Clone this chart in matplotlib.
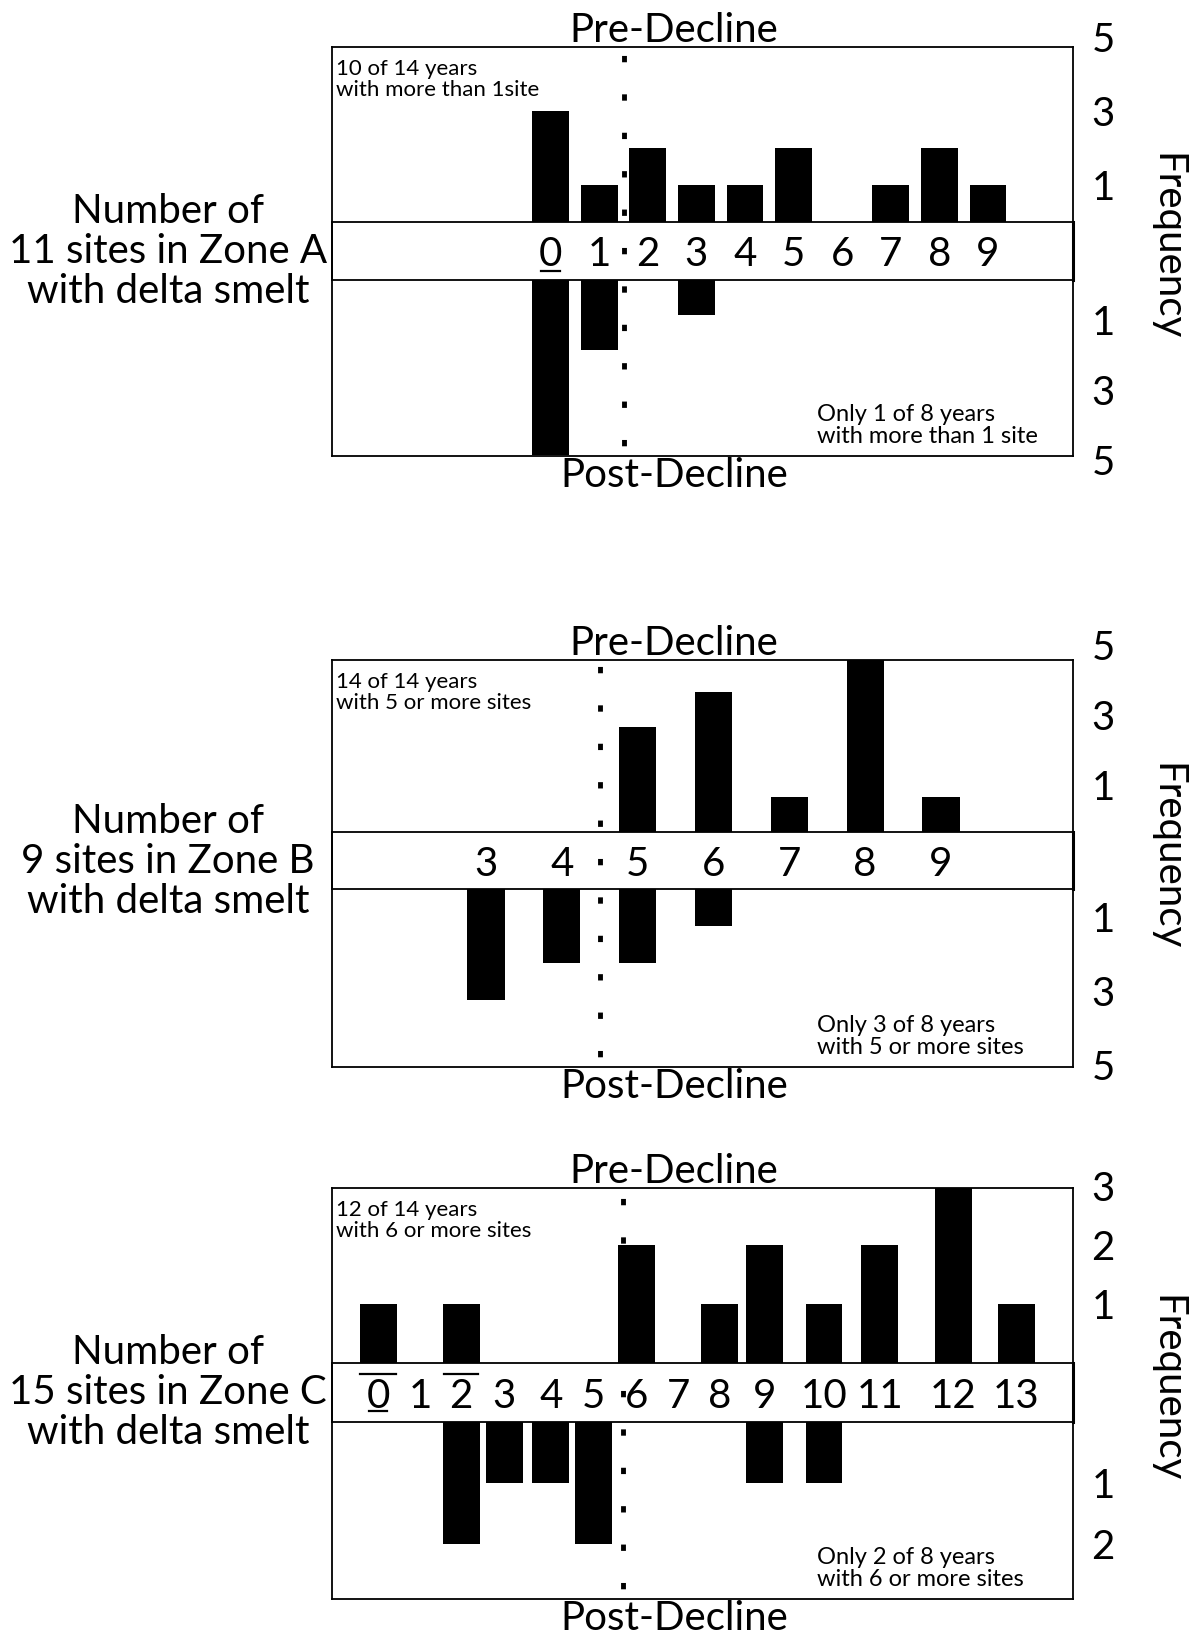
import matplotlib
matplotlib.use("Agg")
import matplotlib.pyplot as plt

# ---------------- data ----------------
zone_a_sites = list(range(10))
zone_a_pre = [3, 1, 2, 1, 1, 2, 0, 1, 2, 1]
zone_a_post = [5, 2, 0, 1, 0, 0, 0, 0, 0, 0]
zone_a_ticks_pre = [5, 3, 1]
zone_a_ticks_post = [1, 3, 5]

zone_b_sites = list(range(3, 10))
zone_b_pre = [0, 0, 3, 4, 1, 5, 1]
zone_b_post = [3, 2, 2, 1, 0, 0, 0]
zone_b_ticks_pre = [5, 3, 1]
zone_b_ticks_post = [1, 3, 5]

zone_c_sites = list(range(14))
zone_c_pre = [1, 0, 1, 0, 0, 0, 2, 0, 1, 2, 1, 2, 3, 1]
zone_c_post = [0, 0, 2, 1, 1, 2, 0, 0, 0, 1, 1, 0, 0, 0]
zone_c_ticks_pre = [3, 2, 1]
zone_c_ticks_post = [1, 2]

left_labels = ["Number of\n11 sites in Zone A\nwith delta smelt",
               "Number of\n9 sites in Zone B\nwith delta smelt",
               "Number of\n15 sites in Zone C\nwith delta smelt"]
pre_notes = ["10 of 14 years\nwith more than 1site",
             "14 of 14 years\nwith 5 or more sites",
             "12 of 14 years\nwith 6 or more sites"]
post_notes = ["Only 1 of 8 years\nwith more than 1 site",
              "Only 3 of 8 years\nwith 5 or more sites",
              "Only 2 of 8 years\nwith 6 or more sites"]

# ---------------- layout ----------------
W, H = 1203, 1636
plt.rcParams["font.family"] = ["Lato", "DejaVu Sans"]
BIG = 29

fig = plt.figure(figsize=(W / 100, H / 100), dpi=100)
fig.patch.set_facecolor("white")

BX0, BX1 = 332, 1073


def rect(x0, y0, x1, y1):
    return [x0 / W, 1 - y1 / H, (x1 - x0) / W, (y1 - y0) / H]


# label-slot positions for zone C (labels are unevenly spaced in the strip)
zone_c_slots = [0, 0.98, 1.93, 2.93, 4.02, 5.02, 6.02, 6.98, 7.95, 8.98,
                10.37, 11.67, 13.37, 14.84]

panels = [
    dict(sites=zone_a_sites, pre=zone_a_pre, post=zone_a_post,
         tpre=zone_a_ticks_pre, tpost=zone_a_ticks_post,
         xpos=zone_a_sites, xlim=(-4.5, 10.75), width=0.76, divider=1.5,
         top=47, st=222, sb=280, bot=456, u_top=37, u_bot=35,
         off_pre=0.0, off_post=0.15,
         marks=[(0, 0.15, 0.19)]),
    dict(sites=zone_b_sites, pre=zone_b_pre, post=zone_b_post,
         tpre=zone_b_ticks_pre, tpost=zone_b_ticks_post,
         xpos=zone_b_sites, xlim=(0.97, 10.74), width=0.49, divider=4.5,
         top=660, st=832, sb=889, bot=1067, u_top=35, u_bot=37,
         off_pre=0.33, off_post=-0.23,
         marks=[]),
    dict(sites=zone_c_sites, pre=zone_c_pre, post=zone_c_post,
         tpre=zone_c_ticks_pre, tpost=zone_c_ticks_post,
         xpos=zone_c_slots, xlim=(-1.07, 16.16), width=0.86, divider=5.7,
         top=1188, st=1363, sb=1422, bot=1599, u_top=59, u_bot=61,
         off_pre=0.0, off_post=0.0,
         marks=[(0, 0.82, 0.42), (0, 0.19, 0.21), (1.93, 0.82, 0.40)]),
]


def clean(ax):
    ax.set_xticks([])
    ax.set_yticks([])
    ax.set_facecolor("none")


for i, p in enumerate(panels):
    top, st, sb, bot = p["top"], p["st"], p["sb"], p["bot"]

    # frame axes (whole box) - holds the dotted divider
    ax_f = fig.add_axes(rect(BX0, top, BX1, bot))
    clean(ax_f)
    ax_f.set_xlim(p["xlim"])
    ax_f.set_ylim(0, 1)
    for s in ax_f.spines.values():
        s.set_linewidth(1.3)
    ax_f.axvline(p["divider"], color="black", lw=3.5,
                 linestyle=(5.8, (1.3, 6.6)), zorder=5)

    # pre-decline (upper) bars
    ax_t = fig.add_axes(rect(BX0, top, BX1, st))
    clean(ax_t)
    for s in ax_t.spines.values():
        s.set_visible(False)
    ax_t.set_xlim(p["xlim"])
    ax_t.set_ylim(0, (st - top) / p["u_top"])
    ax_t.bar(p["xpos"], p["pre"], width=p["width"], color="black",
             linewidth=0, align="center")
    for v in p["tpre"]:
        ax_t.text((1103 - BX0) / (BX1 - BX0), v + p["off_pre"], str(v),
                  transform=ax_t.get_yaxis_transform(), ha="center",
                  va="center_baseline", fontsize=BIG, clip_on=False)

    # post-decline (lower) bars
    ax_b = fig.add_axes(rect(BX0, sb, BX1, bot))
    clean(ax_b)
    for s in ax_b.spines.values():
        s.set_visible(False)
    ax_b.set_xlim(p["xlim"])
    ax_b.set_ylim((bot - sb) / p["u_bot"], 0)
    ax_b.bar(p["xpos"], p["post"], width=p["width"], color="black",
             linewidth=0, align="center")
    for v in p["tpost"]:
        ax_b.text((1103 - BX0) / (BX1 - BX0), v + p["off_post"], str(v),
                  transform=ax_b.get_yaxis_transform(), ha="center",
                  va="center_baseline", fontsize=BIG, clip_on=False)

    # strip with site counts
    ax_s = fig.add_axes(rect(BX0, st, BX1, sb))
    clean(ax_s)
    ax_s.set_xlim(p["xlim"])
    ax_s.set_ylim(0, 1)
    for s in ax_s.spines.values():
        s.set_linewidth(1.3)
    ax_s.spines["right"].set_linewidth(2.2)
    for x, site in zip(p["xpos"], p["sites"]):
        ax_s.text(x, 0.5, str(site), ha="center", va="center_baseline",
                  fontsize=BIG)
    for (x, yf, hw) in p["marks"]:
        ax_s.plot([x - hw, x + hw], [yf, yf], color="black", lw=1.6)

    # titles above / below
    fig.text(674 / W, 1 - (top - 5) / H, "Pre-Decline", ha="center",
             va="baseline", fontsize=BIG)
    fig.text(674 / W, 1 - (bot + 31) / H, "Post-Decline", ha="center",
             va="baseline", fontsize=BIG)

    # notes in the box
    fig.text(336 / W, 1 - (top + 49) / H, pre_notes[i], ha="left",
             va="baseline", fontsize=16, linespacing=1.08)
    fig.text(817 / W, 1 - (bot - 13) / H, post_notes[i], ha="left",
             va="baseline", fontsize=17, linespacing=1.08)

    # left label
    sc = (st + sb) / 2
    fig.text(168 / W, 1 - (sc + 52) / H, left_labels[i], ha="center",
             va="baseline", fontsize=BIG, linespacing=1.1,
             multialignment="center")

    # frequency axis title
    fig.text(1167 / W, 1 - (sc - 4) / H, "Frequency", rotation=-90,
             ha="center", va="center", fontsize=BIG)

fig.savefig("out.png", dpi=100, facecolor="white")
